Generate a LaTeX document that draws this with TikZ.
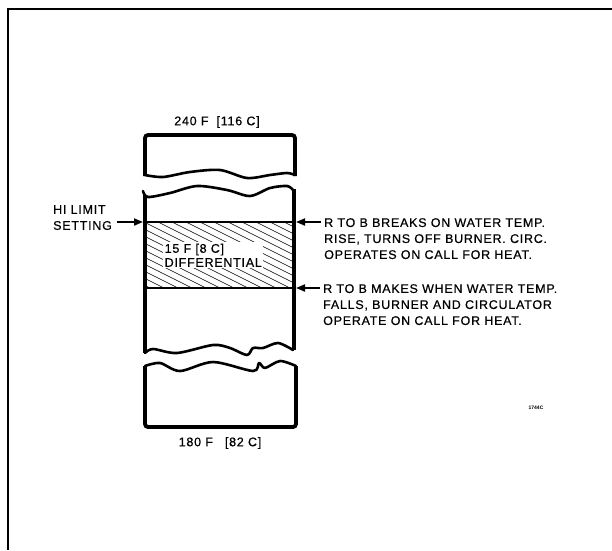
\documentclass[tikz,border=0pt]{standalone}
\usepackage{fontspec}
\setmainfont{Liberation Sans}
\newfontfamily\lab[LetterSpace=6,FakeBold=0.5]{Liberation Sans}
\usetikzlibrary{arrows.meta}
\begin{document}
\begin{tikzpicture}[x=1pt,y=-1pt,
  side/.style={line width=3.8pt},
  wave/.style={line width=2.6pt, line join=round, line cap=round},
  lvl/.style={line width=2.2pt},
  hatch/.style={line width=0.55pt},
  ptr/.style={line width=1.8pt, -{Triangle[length=9pt,width=7pt]}},
  lbl/.style={font=\lab\fontsize{12.5}{16}\selectfont, inner sep=0pt, align=left},
]
\useasboundingbox (0,0) rectangle (612,550);
% frame
\draw[line width=2pt] (8,550) -- (8,9) -- (612,9);

% top box
\draw[side, rounded corners=3pt] (145,176) -- (145,135) -- (295,135) -- (295,176);
\draw[wave] plot[smooth, tension=0.5] coordinates {(145,175) (163,177) (190,172) (220,170) (247,178) (270,175) (287,173) (295,175)};

% middle section
\draw[side] (145,195) -- (145,353);
\draw[side] (294,189) -- (294,350);
\draw[wave] plot[smooth, tension=0.5] coordinates {(143,191) (148,197) (170,193) (197,186) (227,190) (250,196) (270,188) (287,186) (293,190)};
\draw[wave] plot[smooth, tension=0.5] coordinates {(145,353) (153,349) (177,353) (213,345) (230,348) (247,355) (253,348) (263,348) (278,343) (293,350)};

% bottom box
\draw[side, rounded corners=3pt] (145,366) -- (145,427) -- (296,427) -- (296,366);
\draw[wave] plot[smooth, tension=0.5] coordinates {(145,366) (160,363) (180,371) (213,362) (253,371) (259,363) (265,368) (280,361) (296,366)};

% levels
\coordinate (hiL) at (143,222);
\coordinate (hiR) at (296,222);
\coordinate (loR) at (296,288);
\coordinate (hiLa) at (145,222);
\coordinate (hiRa) at (294,222);
\coordinate (loLa) at (145,288);
\coordinate (loRa) at (294,288);

\begin{scope}
  \clip (147,222) rectangle (292,288);
  \foreach \k in {0,...,22} \draw[hatch] (140,{136+\k*7}) -- ++(160,80);
\end{scope}
\draw[lvl] (hiLa) -- (hiRa);
\draw[lvl] (loLa) -- (loRa);

\node[lbl, fill=white, inner sep=1.5pt, anchor=north west, font=\lab\fontsize{12.5}{14}\selectfont] (diff) at (163,242) {15 F [8 C]\\DIFFERENTIAL};

% temperature labels
\node[lbl] (toplbl) at (217,122) {240 F\hspace{8pt}[116 C]};
\node[lbl] (botlbl) at (220,443) {180 F\hspace{12pt}[82 C]};

% left label
\node[lbl, anchor=north west] (hilim) at (53,205) {HI LIMIT\\SETTING};
\coordinate (hs) at (117,222);
\draw[ptr] (hs) -- (hiL);

% right labels
\node[lbl, anchor=north west] (brk) at (324,218) {R TO B BREAKS ON WATER TEMP.\\RISE, TURNS OFF BURNER. CIRC.\\OPERATES ON CALL FOR HEAT.};
\node[lbl, anchor=north west] (mak) at (323,284) {R TO B MAKES WHEN WATER TEMP.\\FALLS, BURNER AND CIRCULATOR\\OPERATE ON CALL FOR HEAT.};
\coordinate (r1) at (321,222);
\coordinate (r2) at (320,288);
\draw[ptr] (r1) -- (hiR);
\draw[ptr] (r2) -- (loR);

\node[font=\bfseries\fontsize{5}{6}\selectfont, inner sep=0pt] (code) at (536,408) {1744C};
\end{tikzpicture}
\end{document}
